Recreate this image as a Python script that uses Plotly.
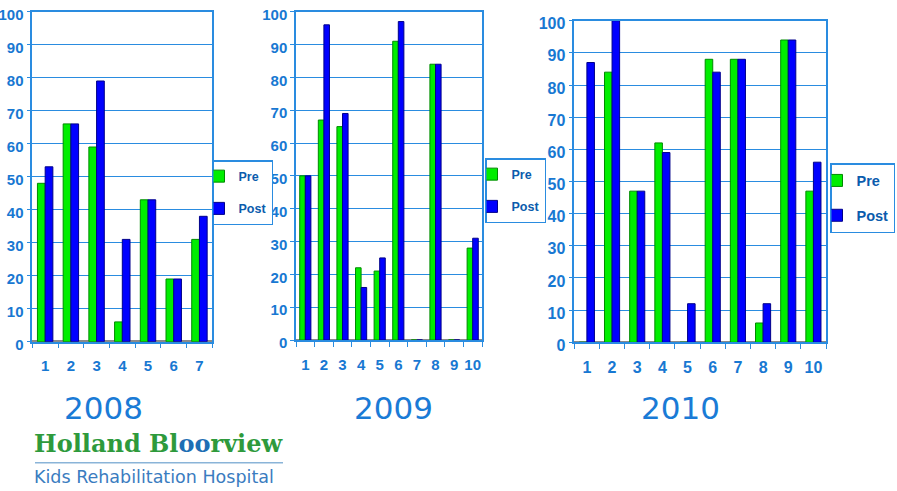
import plotly.graph_objects as go

# ---- data ----
years = ["2008", "2009", "2010"]
categories_2008 = ["1", "2", "3", "4", "5", "6", "7"]
pre_2008 = [48, 66, 59, 6, 43, 19, 31]
post_2008 = [53, 66, 79, 31, 43, 19, 38]

categories_2009 = ["1", "2", "3", "4", "5", "6", "7", "8", "9", "10"]
pre_2009 = [50, 67, 65, 22, 21, 91, 0, 84, 0, 28]
post_2009 = [50, 96, 69, 16, 25, 97, 0, 84, 0, 31]

categories_2010 = ["1", "2", "3", "4", "5", "6", "7", "8", "9", "10"]
pre_2010 = [0, 84, 47, 62, 0, 88, 88, 6, 94, 47]
post_2010 = [87, 100, 47, 59, 12, 84, 88, 12, 94, 56]

y_ticks = [0, 10, 20, 30, 40, 50, 60, 70, 80, 90, 100]

# ---- style ----
W, H = 897, 491
PRE_COLOR = "#00ee00"
PRE_EDGE = "#008a00"
POST_COLOR = "#0000ff"
POST_EDGE = "#00008a"
AXIS_BLUE = "#2a8ce0"
TICK_BLUE = "#1878d2"
LEGEND_TEXT = "#0b5cad"
NARROW = "Liberation Sans Narrow, Liberation Sans, Arial, sans-serif"

def px_x(v):
    return v / W

def px_y(v):
    return 1 - v / H

panels = [
    dict(cats=categories_2008, pre=pre_2008, post=post_2008,
         xd=[px_x(32.3), px_x(212.3)], yd=[px_y(341.7), px_y(11.7)],
         fs=15, leg=dict(x=212, y=160), lfs=12.5),
    dict(cats=categories_2009, pre=pre_2009, post=post_2009,
         xd=[px_x(296), px_x(482)], yd=[px_y(340), px_y(11.7)],
         fs=15, leg=dict(x=485, y=158), lfs=12.5),
    dict(cats=categories_2010, pre=pre_2010, post=post_2010,
         xd=[px_x(574.3), px_x(826)], yd=[px_y(342.3), px_y(20.7)],
         fs=16, leg=dict(x=830, y=163), lfs=14.5),
]

fig = go.Figure()
layout = {}
for i, p in enumerate(panels):
    n = "" if i == 0 else str(i + 1)
    legname = "legend" + n
    for name, vals, col, edge in [
        ("Pre", p["pre"], PRE_COLOR, PRE_EDGE),
        ("Post", p["post"], POST_COLOR, POST_EDGE),
    ]:
        fig.add_trace(go.Bar(
            x=p["cats"], y=vals, name=name,
            marker=dict(color=col, line=dict(color=edge, width=1)),
            xaxis="x" + n, yaxis="y" + n,
            legend=legname, legendgroup=name + n,
            hoverinfo="x+y+name",
        ))
    layout["xaxis" + n] = dict(
        domain=p["xd"], anchor="y" + n, type="category",
        tickmode="array", tickvals=p["cats"], ticktext=p["cats"], tickangle=0,
        showline=True, linecolor=AXIS_BLUE, linewidth=1.5, mirror=True,
        ticks="outside", tickson="boundaries", ticklen=5, tickcolor=AXIS_BLUE,
        showgrid=False, zeroline=False,
        tickfont=dict(family=NARROW, size=p["fs"], color=TICK_BLUE, weight="bold"),
        ticklabelstandoff=10, fixedrange=True,
    )
    layout["yaxis" + n] = dict(
        domain=p["yd"], anchor="x" + n, range=[0, 100],
        tickvals=y_ticks, showline=True, linecolor=AXIS_BLUE, linewidth=1.5,
        mirror=True, ticks="outside", ticklen=4, tickcolor=AXIS_BLUE,
        showgrid=True, gridcolor=AXIS_BLUE, gridwidth=1.2,
        zeroline=True, zerolinecolor="#8a8a8a", zerolinewidth=3,
        tickfont=dict(family=NARROW, size=p["fs"], color=TICK_BLUE, weight="bold"),
        ticklabelstandoff=0, ticklabelshift=3, fixedrange=True,
    )
    layout[legname] = dict(
        x=px_x(p["leg"]["x"]), y=px_y(p["leg"]["y"]),
        xanchor="left", yanchor="top",
        bgcolor="white", bordercolor=AXIS_BLUE, borderwidth=1.5,
        font=dict(family=NARROW, size=p["lfs"], color=LEGEND_TEXT, weight="bold"),
        traceorder="grouped", tracegroupgap=13, indentation=-15,
        itemwidth=30,
    )

# year labels under each chart
year_x = [103, 393, 680]
annotations = []
for yr, xc in zip(years, year_x):
    annotations.append(dict(
        text=yr, x=px_x(xc), y=px_y(408), xref="paper", yref="paper",
        xanchor="center", yanchor="middle", showarrow=False,
        font=dict(family="DejaVu Sans, Verdana, sans-serif", size=31, color="#1a7bd6"),
    ))

# logo text
annotations.append(dict(
    text="Holland Bl<span style='color:#1e6eb4'>oo</span>rview",
    x=px_x(32), y=px_y(443), xref="paper", yref="paper",
    xanchor="left", yanchor="middle", showarrow=False,
    font=dict(family="DejaVu Serif, Liberation Serif, serif", size=24,
              color="#2e9a3c", weight="bold"),
))
annotations.append(dict(
    text="Kids Rehabilitation Hospital",
    x=px_x(32), y=px_y(477), xref="paper", yref="paper",
    xanchor="left", yanchor="middle", showarrow=False,
    font=dict(family="DejaVu Sans, Verdana, sans-serif", size=17.5, color="#3a7cc0"),
))

shapes = [dict(
    type="line", xref="paper", yref="paper",
    x0=px_x(35), x1=px_x(283), y0=px_y(462.7), y1=px_y(462.7),
    line=dict(color="#8ab4d8", width=1.5),
)]

fig.update_layout(
    width=W, height=H, margin=dict(l=0, r=0, t=0, b=0, autoexpand=False),
    paper_bgcolor="white", plot_bgcolor="white",
    barmode="group", bargap=0.4, bargroupgap=0.0,
    annotations=annotations, shapes=shapes,
    showlegend=True,
)
fig.update_layout(**layout)

# remove the browser's default 8px page margin so the figure fills the window
fig.write_html(
    "out.html",
    config={"displayModeBar": False},
    post_script="document.body.style.margin='0';document.body.style.overflow='hidden';",
)
